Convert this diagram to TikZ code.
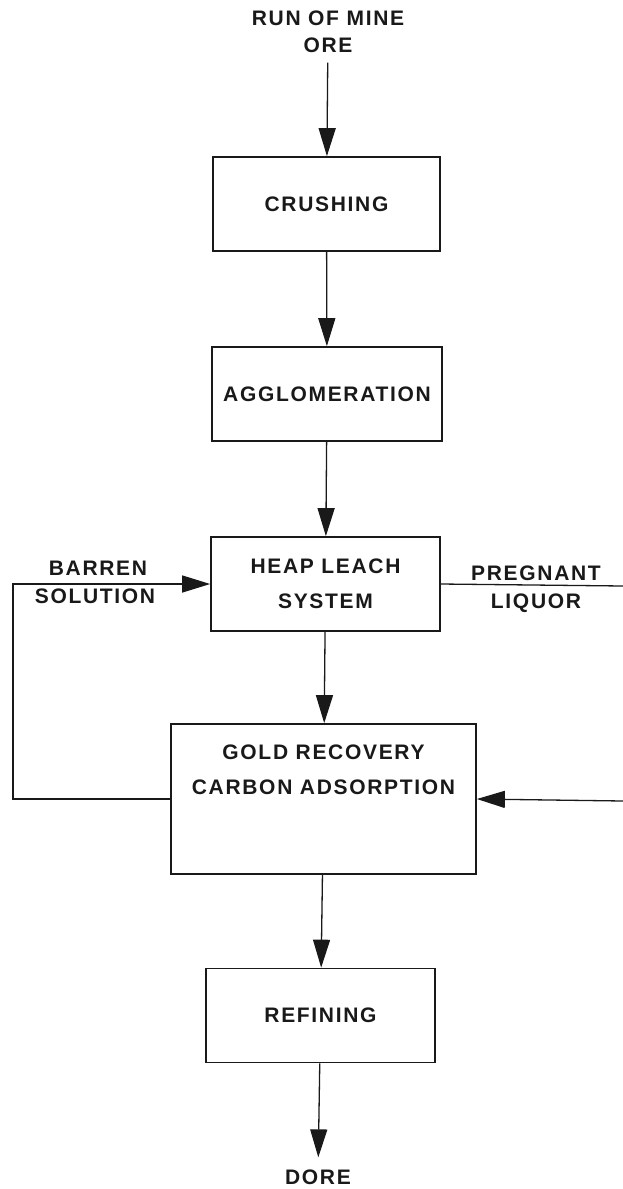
\documentclass[tikz,border=0pt]{standalone}
\usepackage{fontspec}
\setmainfont{Liberation Sans}
\usepackage{tikz}
\usetikzlibrary{arrows.meta, positioning}
\definecolor{inkdark}{RGB}{25,25,25}
\newcommand{\lettering}{\fontsize{21}{35}\selectfont\bfseries\addfontfeatures{LetterSpace=8}}
\tikzset{
  block/.style={rectangle, draw=inkdark, line width=1.7pt,
    minimum width=229pt, minimum height=94pt, inner sep=0pt,
    align=center, font=\lettering, text=inkdark},
  tag/.style={align=center, inner sep=0pt, font=\lettering, text=inkdark},
  arrow/.style={-{Triangle[length=28pt, width=17pt]}, line width=1.3pt, color=inkdark},
  line/.style={line width=1.3pt, color=inkdark}
}

\begin{document}
\begin{tikzpicture}[x=1pt, y=-1pt]
  \useasboundingbox (0,0) rectangle (623,1189);

  % Blocks
  \node[block, minimum width=227pt] (crush) at (326.5, 204) {CRUSHING};
  \node[block, minimum width=230pt] (agglo) at (327, 394) {AGGLOMERATION};
  \node[block] (heap) at (325.5, 584) {HEAP LEACH\\SYSTEM};
  \node[block, minimum width=305pt, minimum height=150pt] (gold) at (323.5, 799) {};
  \node[tag, below=21pt of gold.north] (goldtext) {GOLD RECOVERY\\CARBON ADSORPTION};
  \node[block] (refine) at (320.5, 1015.5) {REFINING};

  % Inputs & Outputs
  \node[tag, font=\lettering\fontsize{21}{27}\selectfont] (ore) at (328, 31.5) {RUN OF MINE\\ORE};
  \node[tag] (dore) at (318, 1177) {DORE};

  % Stream labels
  \node[tag] (barren) at (98, 568) {BARREN};
  \node[tag] (solution) at (95, 596) {SOLUTION};
  \node[tag] (pregnant) at (536, 573) {PREGNANT};
  \node[tag] (liquor) at (536, 603) {LIQUOR};

  \coordinate (bturn) at (13, 799);
  \coordinate (pout) at (623, 586);
  \coordinate (pin) at (623, 801);

  % Connections
  \draw[arrow, shorten <=10pt] (ore) -- (crush);
  \draw[arrow] (crush) -- (agglo);
  \draw[arrow] (agglo) -- (heap);
  \draw[arrow] (heap) -- (gold);
  \draw[arrow] (gold) -- (refine);
  \draw[arrow, shorten >=12pt] (refine) -- (dore);

  \draw[arrow] (gold.west) -- (bturn) |- (heap.west);
  \draw[line] (heap.east) -- (pout);
  \draw[arrow] (pin) -- (gold.east);
\end{tikzpicture}
\end{document}
